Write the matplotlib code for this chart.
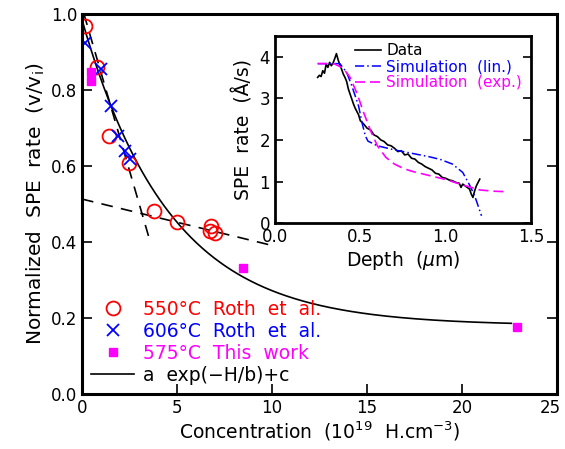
import numpy as np
import matplotlib
matplotlib.use("Agg")
import matplotlib.pyplot as plt
import matplotlib.transforms as mtransforms
from matplotlib.lines import Line2D

plt.rcParams['font.family'] = ['DejaVu Sans']
plt.rcParams['mathtext.fontset'] = 'dejavusans'

# -----------------------------
# main panel data
# -----------------------------
h_550 = [0.16, 0.80, 1.44, 2.47, 3.79, 5.00, 6.77, 6.75, 7.00]
v_550 = [0.968, 0.861, 0.679, 0.608, 0.482, 0.452, 0.443, 0.428, 0.424]

h_606 = [0.16, 0.98, 1.51, 1.91, 2.26, 2.53]
v_606 = [0.923, 0.855, 0.758, 0.679, 0.640, 0.618]

h_575 = [0.46, 0.46, 8.5, 22.9]
v_575 = [0.848, 0.823, 0.332, 0.175]

# fit a exp(-H/b)+c
fit_a, fit_b, fit_c = 0.805, 4.61, 0.18
fit_h_max = 22.6

# straight dashed guide lines (intercept, slope, x range)
steep_line = (1.018, -0.172, 0.1, 3.5)
shallow_line = (0.513, -0.0122, 0.0, 9.9)

# -----------------------------
# inset data
# -----------------------------
depth_data = [0.25, 0.26, 0.27, 0.28, 0.29, 0.30, 0.31, 0.32, 0.33, 0.34, 0.35, 0.36, 0.37,
              0.38, 0.39, 0.40, 0.41, 0.42, 0.43, 0.44, 0.45, 0.46, 0.47, 0.48, 0.49, 0.50,
              0.52, 0.54, 0.56, 0.58, 0.60, 0.62, 0.64, 0.66, 0.68, 0.70, 0.72, 0.74, 0.76,
              0.78, 0.80, 0.82, 0.84, 0.86, 0.88, 0.90, 0.92, 0.94, 0.96, 0.98, 1.00, 1.02,
              1.04, 1.06, 1.08, 1.09, 1.10, 1.12, 1.14, 1.15, 1.16, 1.17, 1.18, 1.19, 1.20]
rate_data = [3.50, 3.55, 3.52, 3.66, 3.60, 3.82, 3.74, 3.86, 3.78, 3.84, 3.95, 4.07, 3.92,
             3.80, 3.70, 3.58, 3.50, 3.40, 3.22, 3.10, 2.98, 2.86, 2.76, 2.68, 2.60, 2.46,
             2.38, 2.28, 2.24, 2.12, 2.08, 2.00, 1.96, 1.88, 1.86, 1.80, 1.72, 1.74, 1.64,
             1.66, 1.56, 1.54, 1.46, 1.42, 1.36, 1.32, 1.28, 1.20, 1.18, 1.10, 1.08, 1.04,
             1.02, 0.98, 0.96, 0.86, 0.94, 0.88, 0.82, 0.70, 0.62, 0.78, 0.90, 0.98, 1.06]

depth_lin = [0.25, 0.38, 0.42, 0.45, 0.49, 0.51, 0.53, 0.545, 0.60, 0.70, 0.80, 0.90,
             0.97, 1.04, 1.10, 1.14, 1.17, 1.19, 1.21]
rate_lin = [3.83, 3.83, 3.62, 3.30, 2.81, 2.41, 2.09, 1.97, 1.86, 1.76, 1.68, 1.60,
            1.53, 1.42, 1.22, 0.92, 0.66, 0.42, 0.18]

depth_exp = [0.25, 0.30, 0.35, 0.40, 0.44, 0.48, 0.52, 0.56, 0.60, 0.65, 0.70, 0.75,
             0.80, 0.90, 1.00, 1.10, 1.20, 1.28, 1.34]
rate_exp = [3.83, 3.83, 3.82, 3.72, 3.50, 3.12, 2.65, 2.22, 1.86, 1.58, 1.42, 1.32,
            1.25, 1.15, 1.05, 0.92, 0.80, 0.77, 0.76]

fig = plt.figure(figsize=(5.65, 4.49), dpi=100)
ax = fig.add_axes([0.1451, 0.1225, 0.8407, 0.8463])

h_fit = np.linspace(0, fit_h_max, 300)
ax.plot(h_fit, fit_a * np.exp(-h_fit / fit_b) + fit_c, color="black", lw=1.2)

for b0, slope, x0, x1 in (steep_line, shallow_line):
    xs = np.array([x0, x1])
    ax.plot(xs, b0 + slope * xs, color="black", lw=1.2, dashes=(7, 5))

ax.plot(h_550, v_550, "o", ms=10, mfc="none", mec="red", mew=1.3)
ax.plot(h_606, v_606, "x", ms=8, color="blue", mew=1.3)
ax.plot(h_575, v_575, "s", ms=5.5, color="magenta", mec="magenta")

ax.set_xlim(0, 25)
ax.set_ylim(0, 1.0)
ax.set_xticks([0, 5, 10, 15, 20, 25])
ax.set_yticks([0.0, 0.2, 0.4, 0.6, 0.8, 1.0])
ax.set_yticklabels(["0.0", "0.2", "0.4", "0.6", "0.8", "1.0"])
ax.tick_params(direction="in", length=7, width=1.2, labelsize=12, right=True, top=False)
for s in ax.spines.values():
    s.set_linewidth(2.2)
ax.set_xlabel(r"Concentration  (10$^{19}$  H.cm$^{-3}$)", fontsize=13.5, labelpad=2)
ax.set_ylabel(r"Normalized  SPE  rate  (v/v$_{\rm i}$)", fontsize=14.5, labelpad=3)

# pull the last x tick label ("25") inside the figure
last = ax.get_xticklabels()[-1]
last.set_transform(last.get_transform() +
                   mtransforms.ScaledTranslation(-7 / 100, 0, fig.dpi_scale_trans))

handles = [
    Line2D([], [], ls="none", marker="o", ms=10, mfc="none", mec="red", mew=1.3),
    Line2D([], [], ls="none", marker="x", ms=8, color="blue", mew=1.3),
    Line2D([], [], ls="none", marker="s", ms=5.5, color="magenta"),
    Line2D([], [], color="black", lw=1.2),
]
labels = ["550\u00b0C  Roth  et  al.", "606\u00b0C  Roth  et  al.",
          "575\u00b0C  This  work", "a  exp(\u2212H/b)+c"]
ax.legend(handles, labels, loc="lower left", frameon=False, fontsize=13.5,
          labelcolor=["red", "blue", "magenta", "black"], handlelength=2.3,
          handletextpad=0.45, labelspacing=0.16, borderaxespad=0.1,
          bbox_to_anchor=(0.0, 0.0))

# -----------------------------
# inset
# -----------------------------
ins = fig.add_axes([0.4867, 0.5027, 0.4531, 0.4178])
ins.plot(depth_data, rate_data, color="black", lw=1.2, label="Data")
ins.plot(depth_lin, rate_lin, color="blue", lw=1.1, dashes=(6, 2, 1, 2),
         label="Simulation  (lin.)")
ins.plot(depth_exp, rate_exp, color="magenta", lw=1.2, dashes=(6, 3),
         label="Simulation  (exp.)")
ins.set_xlim(0, 1.5)
ins.set_ylim(0, 4.5)
ins.set_xticks([0.0, 0.5, 1.0, 1.5])
ins.set_xticklabels(["0.0", "0.5", "1.0", "1.5"])
ins.set_yticks([0, 1, 2, 3, 4])
ins.tick_params(direction="in", length=6, width=1.2, labelsize=12, right=True,
                top=False, bottom=False)
for s in ins.spines.values():
    s.set_linewidth(2.0)
ins.set_xlabel(r"Depth  ($\mu$m)", fontsize=13.5, labelpad=2)
ins.set_ylabel("SPE  rate  (\u00c5/s)", fontsize=13.5, labelpad=4)
ins.legend(loc="upper right", frameon=False, fontsize=11,
           labelcolor=["black", "blue", "magenta"], handlelength=1.7,
           handletextpad=0.35, labelspacing=0.05, borderaxespad=0.1,
           bbox_to_anchor=(0.995, 1.0))

fig.savefig("out.png", dpi=100)
